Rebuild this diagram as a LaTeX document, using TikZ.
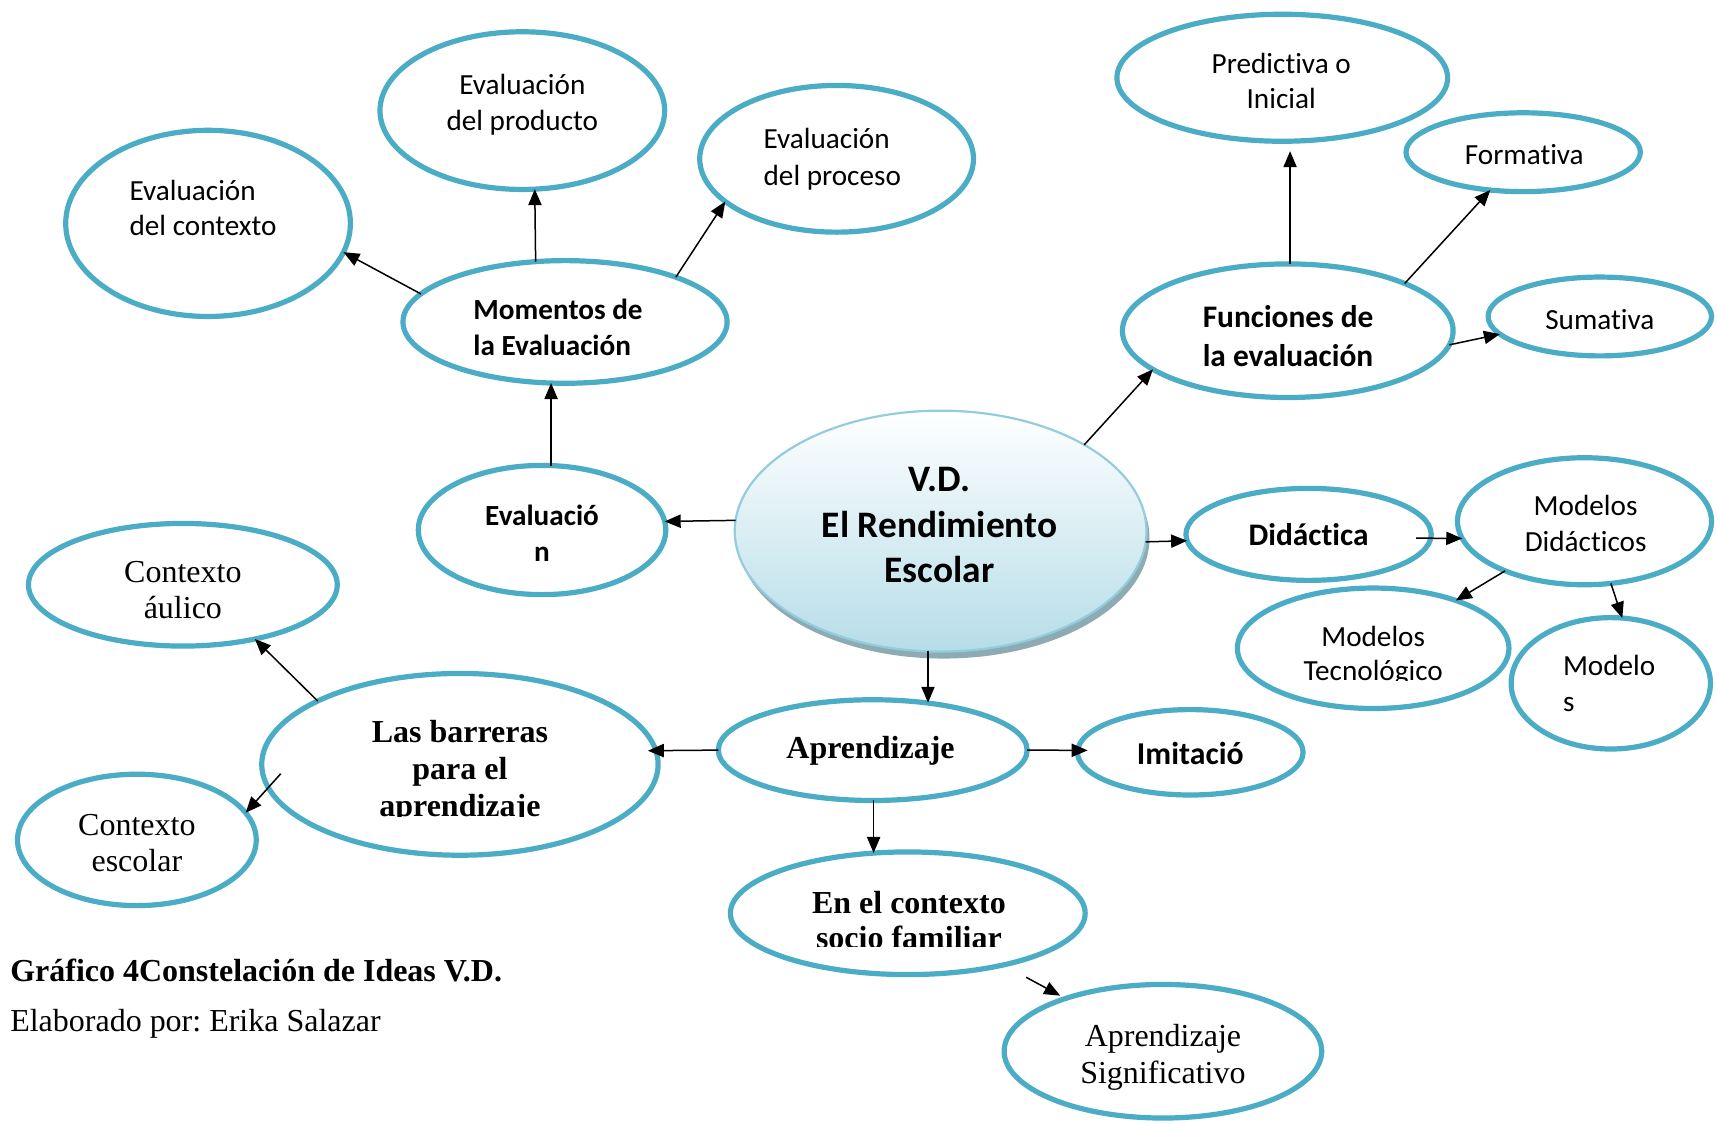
\documentclass[tikz,border=0pt]{standalone}
\usepackage{fontspec}
\usetikzlibrary{shapes.geometric,arrows.meta,calc,shadows}
\newfontfamily\calfont[Ligatures={NoCommon,NoContextual,NoRare},RawFeature={-liga;-clig;-dlig}]{Carlito}
\newfontfamily\tnrfont{Liberation Serif}
\definecolor{acc}{HTML}{4BACC6}
\definecolor{cenb}{HTML}{B6DDE8}
\definecolor{cenbd}{HTML}{93CDDD}
\definecolor{shd}{HTML}{8EAAB3}
\newcommand\ellnode[5]{\node[ell, minimum width=#4*1.0952pt, minimum height=#5*1.0952pt] (#1) at (#2,#3) {};}
\frenchspacing
\begin{document}
\begin{tikzpicture}[x=0.5476pt,y=-0.5476pt,
  ell/.style={ellipse, draw=acc, line width=2.6pt, inner sep=0pt, outer sep=0pt},
  arr/.style={-{Triangle[length=8pt,width=6.6pt]}, line width=0.75pt},
  cr/.style={font=\calfont\fontsize{14.6}{17}\selectfont, inner sep=0pt, anchor=base},
  cb/.style={font=\calfont\bfseries\fontsize{14.6}{17}\selectfont, inner sep=0pt, anchor=base},
  cbl/.style={font=\calfont\bfseries\fontsize{15.7}{18}\selectfont, inner sep=0pt, anchor=base},
  cbc/.style={font=\calfont\bfseries\fontsize{18.7}{22}\selectfont, inner sep=0pt, anchor=base},
  tr/.style={font=\tnrfont\fontsize{16}{18}\selectfont, inner sep=0pt, anchor=base},
  tb/.style={font=\tnrfont\bfseries\fontsize{16}{18}\selectfont, inner sep=0pt, anchor=base},
]
\useasboundingbox[fill=white] (0,0) rectangle (1568,1026);

% ---- ellipses ----
\ellnode{ctx}{190}{204}{130}{85}
\ellnode{prod}{477}{101}{130}{72}
\ellnode{proc}{764}{145}{125}{67}
\ellnode{mom}{516}{294}{148}{56}
\ellnode{evn}{495}{484}{113}{59}
\ellnode{pred}{1171}{71}{151}{58}
\ellnode{form}{1391}{139}{107}{36}
\ellnode{fun}{1176}{302}{151}{61}
\ellnode{sum}{1461}{289}{102}{36}
\ellnode{did}{1195}{488}{112}{42}
\ellnode{md}{1447}{476}{116}{58}
\ellnode{mt}{1254}{592}{124}{55}
\ellnode{ms}{1471}{624}{91}{60}
\ellnode{aul}{167}{534}{141}{56}
\ellnode{bar}{420}{698}{181}{83}
\ellnode{esc}{125}{767}{109}{60}
\ellnode{apr}{797}{685}{141}{46}
\ellnode{imi}{1087}{687}{103}{39}
\ellnode{enc}{829}{834}{162}{56}
\ellnode{sig}{1062}{960}{145}{61}

\node[ellipse, minimum width=188*1.0952pt, minimum height=110*1.0952pt, inner sep=0pt, outer sep=0pt,
  draw=cenbd, line width=1.1pt, top color=white, bottom color=cenb,
  drop shadow={shadow xshift=1.5pt, shadow yshift=-3.5pt, fill=shd, opacity=1}] (cen) at (859,485) {};

% ---- texts ----
\node[cbc] (t-cen1) at (858,449) {V.D.};
\node[cbc] (t-cen2) at (858,491) {El Rendimiento};
\node[cbc] (t-cen3) at (858,532) {Escolar};

\node[cr, anchor=base west] (t-ctx1) at (118,183) {Evaluación};
\node[cr, anchor=base west] (t-ctx2) at (118,215) {del contexto};
\node[cr] (t-prod1) at (477,86) {Evaluación};
\node[cr] (t-prod2) at (477,119) {del producto};
\node[cr, anchor=base west] (t-proc1) at (697,136) {Evaluación};
\node[cr, anchor=base west] (t-proc2) at (697,169) {del proceso};
\node[cb, anchor=base west] (t-mom1) at (432,292) {Momentos de};
\node[cb, anchor=base west] (t-mom2) at (432,325) {la Evaluación};
\node[cb] (t-evn1) at (495,480) {Evaluació};
\node[cb] (t-evn2) at (495,513) {n};

\node[cr] (t-pred1) at (1170,67) {Predictiva o};
\node[cr] (t-pred2) at (1170,99) {Inicial};
\node[cr] (t-form) at (1392,150) {Formativa};
\node[cbl, anchor=base west] (t-fun1) at (1098,299) {Funciones de};
\node[cbl, anchor=base west] (t-fun2) at (1098,335) {la evaluación};
\node[cr] (t-sum) at (1461,301) {Sumativa};
\node[cbl] (t-did) at (1195,498) {Didáctica};
\node[cr] (t-md1) at (1448,471) {Modelos};
\node[cr] (t-md2) at (1448,504) {Didácticos};
\node[cr] (t-mt1) at (1254,590) {Modelos};
\begin{scope}
  \clip (1150,595) rectangle (1360,621);
  \node[cr] (t-mt2) at (1254,621) {Tecnológico};
\end{scope}
\node[cr, anchor=base west] (t-ms1) at (1427,617) {Modelo};
\node[cr, anchor=base west] (t-ms2) at (1427,650) {s};

\node[tr] (t-aul1) at (167,532) {Contexto};
\begin{scope}
  \clip (60,538) rectangle (280,566);
  \node[tr] (t-aul2) at (167,565) {áulico};
\end{scope}
\node[tb] (t-bar1) at (420,678) {Las barreras};
\node[tb] (t-bar2) at (420,712) {para el};
\begin{scope}
  \clip (300,716) rectangle (540,746);
  \node[tb] (t-bar3) at (420,746) {aprendizaje};
\end{scope}
\node[tr] (t-esc1) at (125,763) {Contexto};
\node[tr] (t-esc2) at (125,796) {escolar};
\node[tb] (t-apr) at (795,693) {Aprendizaje};
\node[font=\calfont\bfseries\fontsize{15.9}{18}\selectfont, inner sep=0pt, anchor=base] (t-imi) at (1087,698) {Imitació};
\node[tb] (t-enc1) at (830,834) {En el contexto};
\begin{scope}
  \clip (700,838) rectangle (960,864);
  \node[tb] (t-enc2) at (830,866) {socio familiar};
\end{scope}
\node[tr] (t-sig1) at (1062,956) {Aprendizaje};
\node[tr] (t-sig2) at (1062,989) {Significativo};

\node[tb, anchor=base west] (cap1) at (9,896) {Gráfico 4Constelación de Ideas V.D.};
\node[tr, anchor=base west] (cap2) at (9,942) {Elaborado por: Erika Salazar};

% ---- connectors ----
\draw[arr] (mom.169) -- (ctx.-12);
\draw[arr] (mom.116) -- (prod.-81.5);
\draw[arr] (mom.22) -- (proc.201);
\draw[arr] (evn.82.5) -- (evn.82.5 |- mom.257.3);
\draw[arr] (cen.177.3) -- (evn.4);
\draw[arr] (cen.31.5) -- (fun.196.3);
\draw[arr, shorten >=5pt] (fun.88.2) -- (fun.88.2 |- pred.-83.3);
\draw[arr] (fun.22.8) -- (form.229.3);
\draw[arr] (fun.-5.2) -- (sum.190.7);
\draw[arr] (cen.-3) -- (did.183.6);
\draw[arr] ($(did.center)!0.88!(did.-2)$) -- (md.188);
\draw[arr] (md.212.5) -- (mt.30.3);
\draw[arr] (md.-67.8) -- (ms.80.8);
\draw[arr] (cen.264) -- (cen.264 |- apr.42);
\draw[arr, shorten >=-4pt] (apr.180) -- (bar.4.1);
\draw[arr, shorten >=-5pt] (apr.0) -- (imi.179);
\draw[arr] (apr.-89) -- (apr.-89 |- enc.118.6);
\draw[arr] (bar.156.2) -- (aul.-37.9);
\draw[arr] ($(bar.center)!0.91!(bar.183)$) -- (esc.14.3);
\draw[arr, shorten <=13pt, shorten >=3pt] (enc) -- (sig);
\end{tikzpicture}
\end{document}
